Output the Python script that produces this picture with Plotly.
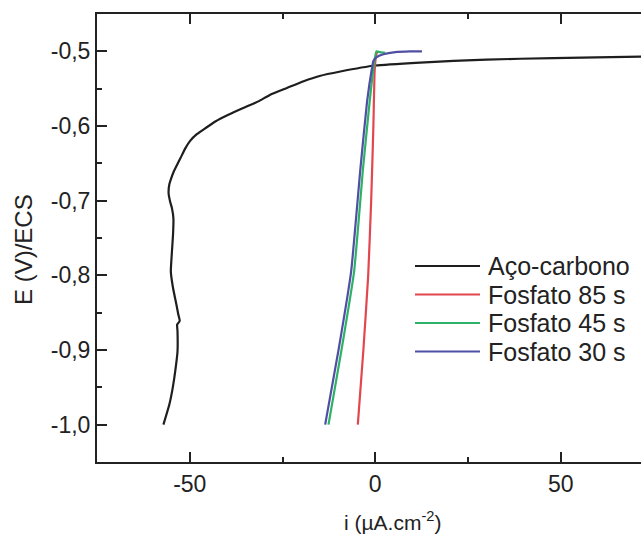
import plotly.graph_objects as go

# Polarization curves: current density i (µA/cm²) vs potential E (V vs ECS)
aco_i = [-57.1, -55.5, -54.6, -53.9, -53.3, -53.3, -53.4, -52.7, -53.1, -53.6, -54.5,
         -55.1, -54.8, -54.5, -54.4, -54.8, -55.3, -55.7, -55.5, -55.0, -54.3, -52.5,
         -51.2, -49.9, -48.1, -45.8, -43.1, -39.6, -35.6, -31.5, -28.3, -23.8, -19.3,
         -15.0, -9.4, 0.0, 12.1, 30.0, 48.0, 71.5, 75.0]
aco_E = [-1.000, -0.973, -0.951, -0.928, -0.902, -0.875, -0.866, -0.861, -0.852, -0.839, -0.817,
         -0.795, -0.768, -0.745, -0.724, -0.710, -0.701, -0.690, -0.678, -0.670, -0.661, -0.643,
         -0.630, -0.620, -0.611, -0.603, -0.594, -0.585, -0.576, -0.567, -0.558, -0.549, -0.540,
         -0.533, -0.527, -0.519, -0.515, -0.511, -0.509, -0.507, -0.5065]

f85_i = [-4.7, -3.2, -1.9, -1.1, -0.5, -0.2, 0.1, 0.5]
f85_E = [-1.000, -0.900, -0.800, -0.700, -0.600, -0.530, -0.510, -0.500]

f45_i = [-12.6, -9.1, -5.7, -3.3, -1.5, -0.5, 0.3, 1.2, 2.7]
f45_E = [-1.000, -0.900, -0.795, -0.657, -0.567, -0.523, -0.500, -0.501, -0.502]

f30_i = [-13.5, -9.9, -6.5, -4.0, -2.2, -0.9, -0.5, 0.3, 2.2, 5.4, 9.4, 12.6]
f30_E = [-1.000, -0.900, -0.795, -0.657, -0.567, -0.523, -0.513, -0.508, -0.504, -0.501, -0.500, -0.500]

names = ["Aço-carbono", "Fosfato 85 s", "Fosfato 45 s", "Fosfato 30 s"]
colors = ["#1e1e1e", "#e2474f", "#2fb068", "#4f4fa3"]
series_i = [aco_i, f85_i, f45_i, f30_i]
series_E = [aco_E, f85_E, f45_E, f30_E]

x_ticks = [-50, 0, 50]
x_tick_text = ["-50", "0", "50"]
x_minor = [-25, 25]
y_ticks = [-1.0, -0.9, -0.8, -0.7, -0.6, -0.5]
y_tick_text = ["-1,0", "-0,9", "-0,8", "-0,7", "-0,6", "-0,5"]
y_minor = [-1.05, -0.95, -0.85, -0.75, -0.65, -0.55, -0.45]

W, H = 641, 536
ML, MR, MT, MB = 97, 0, 14, 74
PW, PH = W - ML - MR, H - MT - MB
FONT = "Liberation Sans, Arial, sans-serif"
INK = "#222222"


def px_to_paper(px, py):
    return (px - ML) / PW, (H - MB - py) / PH


fig = go.Figure()
for xs, ys, name, col in zip(series_i, series_E, names, colors):
    fig.add_trace(go.Scatter(x=xs, y=ys, mode="lines", name=name,
                             line=dict(color=col, width=2.2, shape="spline", smoothing=0.4),
                             showlegend=False))

# Legend drawn as key lines plus labels
leg_x0, leg_x1, leg_tx, leg_y0, leg_dy = 415, 480, 486, 266, 28.5
shapes, annotations = [], []
for k, (name, col) in enumerate(zip(names, colors)):
    yy = leg_y0 + k * leg_dy
    xa, ya = px_to_paper(leg_x0, yy)
    xb, _ = px_to_paper(leg_x1, yy)
    xt, _ = px_to_paper(leg_tx, yy)
    shapes.append(dict(type="line", xref="paper", yref="paper", x0=xa, x1=xb, y0=ya, y1=ya,
                       line=dict(color=col, width=2.2)))
    annotations.append(dict(text=name, xref="paper", yref="paper", x=xt, y=ya,
                            xanchor="left", yanchor="middle", showarrow=False,
                            font=dict(family=FONT, size=25, color=INK)))

tx, ty = px_to_paper(393, 521)
annotations.append(dict(text="i (µA.cm<sup>-2</sup>)", xref="paper", yref="paper", x=tx, y=ty,
                        xanchor="center", yanchor="middle", showarrow=False,
                        font=dict(family=FONT, size=21, color=INK)))
tx, ty = px_to_paper(23, 250)
annotations.append(dict(text="E (V)/ECS", xref="paper", yref="paper", x=tx, y=ty,
                        xanchor="center", yanchor="middle", showarrow=False, textangle=-90,
                        font=dict(family=FONT, size=24, color=INK)))

axis_common = dict(showgrid=False, zeroline=False, showline=True, linecolor=INK, linewidth=2,
                   ticks="inside", ticklen=10, tickwidth=2, tickcolor=INK,
                   tickfont=dict(family=FONT, size=23, color=INK))

fig.update_layout(
    width=W, height=H,
    margin=dict(l=ML, r=MR, t=MT, b=MB, pad=0),
    paper_bgcolor="white", plot_bgcolor="white",
    showlegend=False,
    shapes=shapes, annotations=annotations,
    xaxis=dict(range=[-75, -75 + PW / 3.71], tickmode="array", tickvals=x_ticks,
               ticktext=x_tick_text, mirror="ticks",
               minor=dict(tickmode="array", tickvals=x_minor, ticks="inside", ticklen=5,
                          tickwidth=2, tickcolor=INK),
               **axis_common),
    yaxis=dict(range=[-1.05, -0.45], tickmode="array", tickvals=y_ticks,
               ticktext=y_tick_text, mirror=False,
               minor=dict(tickmode="array", tickvals=y_minor, ticks="inside", ticklen=5,
                          tickwidth=2, tickcolor=INK),
               **axis_common),
)

fig.write_html("out.html")
